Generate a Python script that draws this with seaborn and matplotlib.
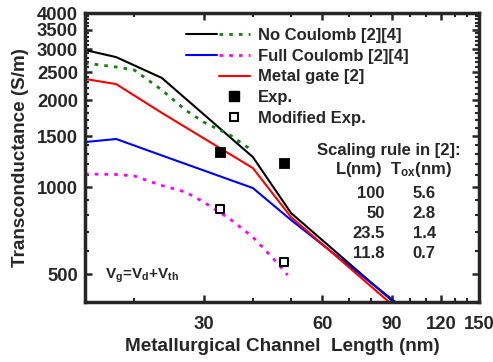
import numpy as np
import pandas as pd
import matplotlib
matplotlib.use("Agg")
import matplotlib.pyplot as plt
import seaborn as sns
from matplotlib.lines import Line2D
from matplotlib.legend_handler import HandlerTuple
from matplotlib.ticker import FixedLocator, FixedFormatter, NullFormatter

# data
x_lines = [15, 18, 23.5, 40, 50, 100]
y_nocoul_black = [2980, 2815, 2385, 1270, 813, 358]
y_fullcoul_blue = [1431, 1466, 1286, 992, 769, 366]
y_metal_red = [2366, 2270, 1805, 1163, 787, 347]

x_nocoul_green = [15, 18, 20, 23.5, 27, 30, 35, 40]
y_nocoul_green = [2685, 2602, 2541, 2167, 1846, 1678, 1513, 1333]

x_fullcoul_mag = [15, 18, 20, 23.5, 27, 30, 35, 40, 45, 49]
y_fullcoul_mag = [1109, 1105, 1092, 1012, 961, 887, 775, 671, 567, 496]

x_exp = [33, 48]
y_exp = [1321, 1211]
x_mod = [33, 48]
y_mod = [839, 550]

scale_L = ["100", "50", "23.5", "11.8"]
scale_T = ["5.6", "2.8", "1.4", "0.7"]

x_major = [30, 60, 90, 120, 150]
x_minor = [20, 40, 50, 70, 80, 100, 110, 130, 140]
y_major = [500, 1000, 1500, 2000, 2500, 3000, 3500, 4000]

sns.set_style("ticks")
plt.rcParams['font.family'] = ['Liberation Sans', 'DejaVu Sans']
plt.rcParams['font.weight'] = 'bold'
plt.rcParams['mathtext.fontset'] = 'custom'
plt.rcParams['mathtext.rm'] = 'Liberation Sans:bold'
plt.rcParams['mathtext.it'] = 'Liberation Sans:bold'
plt.rcParams['mathtext.default'] = 'regular'

fig = plt.figure(figsize=(4.93, 3.62), dpi=100)
ax = fig.add_axes([0.1724, 0.1657, 0.7992, 0.7983])

lw = 1.5
dots = (0, (1.3, 2.2))
sns.lineplot(x=x_lines, y=y_nocoul_black, color='black', lw=lw, ax=ax, sort=False)
sns.lineplot(x=x_nocoul_green, y=y_nocoul_green, color='#108010', lw=2.0, linestyle=dots, ax=ax, sort=False)
sns.lineplot(x=x_lines, y=y_fullcoul_blue, color='#0000ff', lw=lw, ax=ax, sort=False)
sns.lineplot(x=x_fullcoul_mag, y=y_fullcoul_mag, color='#ff00ff', lw=2.0, linestyle=dots, ax=ax, sort=False)
sns.lineplot(x=x_lines, y=y_metal_red, color='#ff0000', lw=lw, ax=ax, sort=False)
sns.scatterplot(x=x_exp, y=y_exp, marker='s', color='black', s=55, edgecolor='black', ax=ax, zorder=5)
sns.scatterplot(x=x_mod, y=y_mod, marker='s', facecolor='white', s=30, edgecolor='black', linewidth=1.5, ax=ax, zorder=5)

ax.set_xscale('log')
ax.set_yscale('log')
ax.set_xlim(15, 150)
ax.set_ylim(400, 4000)

ax.xaxis.set_major_locator(FixedLocator(x_major))
ax.xaxis.set_major_formatter(FixedFormatter([str(v) for v in x_major]))
ax.xaxis.set_minor_locator(FixedLocator(x_minor))
ax.xaxis.set_minor_formatter(NullFormatter())
ax.yaxis.set_major_locator(FixedLocator(y_major))
ax.yaxis.set_major_formatter(FixedFormatter([str(v) for v in y_major]))
ax.yaxis.set_minor_locator(FixedLocator([v for v in range(400, 4001, 100) if v not in y_major]))
ax.yaxis.set_minor_formatter(NullFormatter())

ax.tick_params(which='both', direction='in', top=True, right=True, width=1.8, labelsize=13.3)
ax.tick_params(axis='x', pad=10)
ax.tick_params(axis='y', pad=5)
ax.tick_params(which='major', length=5)
ax.tick_params(which='minor', length=3, width=1.5)
for sp in ax.spines.values():
    sp.set_linewidth(2.5)

ax.set_xlabel('Metallurgical Channel  Length (nm)', fontsize=13.6, fontweight='bold', labelpad=4)
ax.set_ylabel('Transconductance (S/m)', fontsize=13.6, fontweight='bold', labelpad=6)

blank = Line2D([], [], linestyle='none')
h_black = Line2D([], [], color='black', lw=lw)
h_green = Line2D([], [], color='#108010', lw=2.0, linestyle=dots)
h_blue = Line2D([], [], color='#0000ff', lw=lw)
h_mag = Line2D([], [], color='#ff00ff', lw=2.0, linestyle=dots)
h_red = Line2D([], [], color='#ff0000', lw=lw)
h_exp = Line2D([], [], marker='s', color='black', linestyle='none', markersize=7.5)
h_mod = Line2D([], [], marker='s', markerfacecolor='white', markeredgecolor='black',
               markeredgewidth=1.5, linestyle='none', markersize=5.5)
ax.legend([(h_black, h_green), (h_blue, h_mag), (blank, h_red), (blank, h_exp), (blank, h_mod)],
          ['No Coulomb [2][4]', 'Full Coulomb [2][4]', 'Metal gate [2]', 'Exp.', 'Modified Exp.'],
          handler_map={tuple: HandlerTuple(ndivide=None, pad=0.15)},
          loc='upper left', bbox_to_anchor=(0.256, 0.948), frameon=False,
          borderpad=0, borderaxespad=0, handlelength=3.83, handletextpad=0.48,
          labelspacing=0.34, prop={'size': 12, 'weight': 'bold'})

ax.text(0.589, 0.526, 'Scaling rule in [2]:', transform=ax.transAxes, fontsize=12, fontweight='bold', va='center')
ax.text(0.635, 0.457, 'L(nm)  T$_{ox}$(nm)', transform=ax.transAxes, fontsize=12, fontweight='bold', va='center')
for i in range(len(scale_L)):
    yy = 0.377 - i * 0.0692
    ax.text(0.761, yy, scale_L[i], transform=ax.transAxes, fontsize=12, fontweight='bold', ha='right', va='center')
    ax.text(0.832, yy, scale_T[i], transform=ax.transAxes, fontsize=12, fontweight='bold', ha='left', va='center')

ax.text(0.05, 0.09, 'V$_g$=V$_d$+V$_{th}$', transform=ax.transAxes, fontsize=11, fontweight='bold', va='center')

fig.savefig('out.png', dpi=100)
